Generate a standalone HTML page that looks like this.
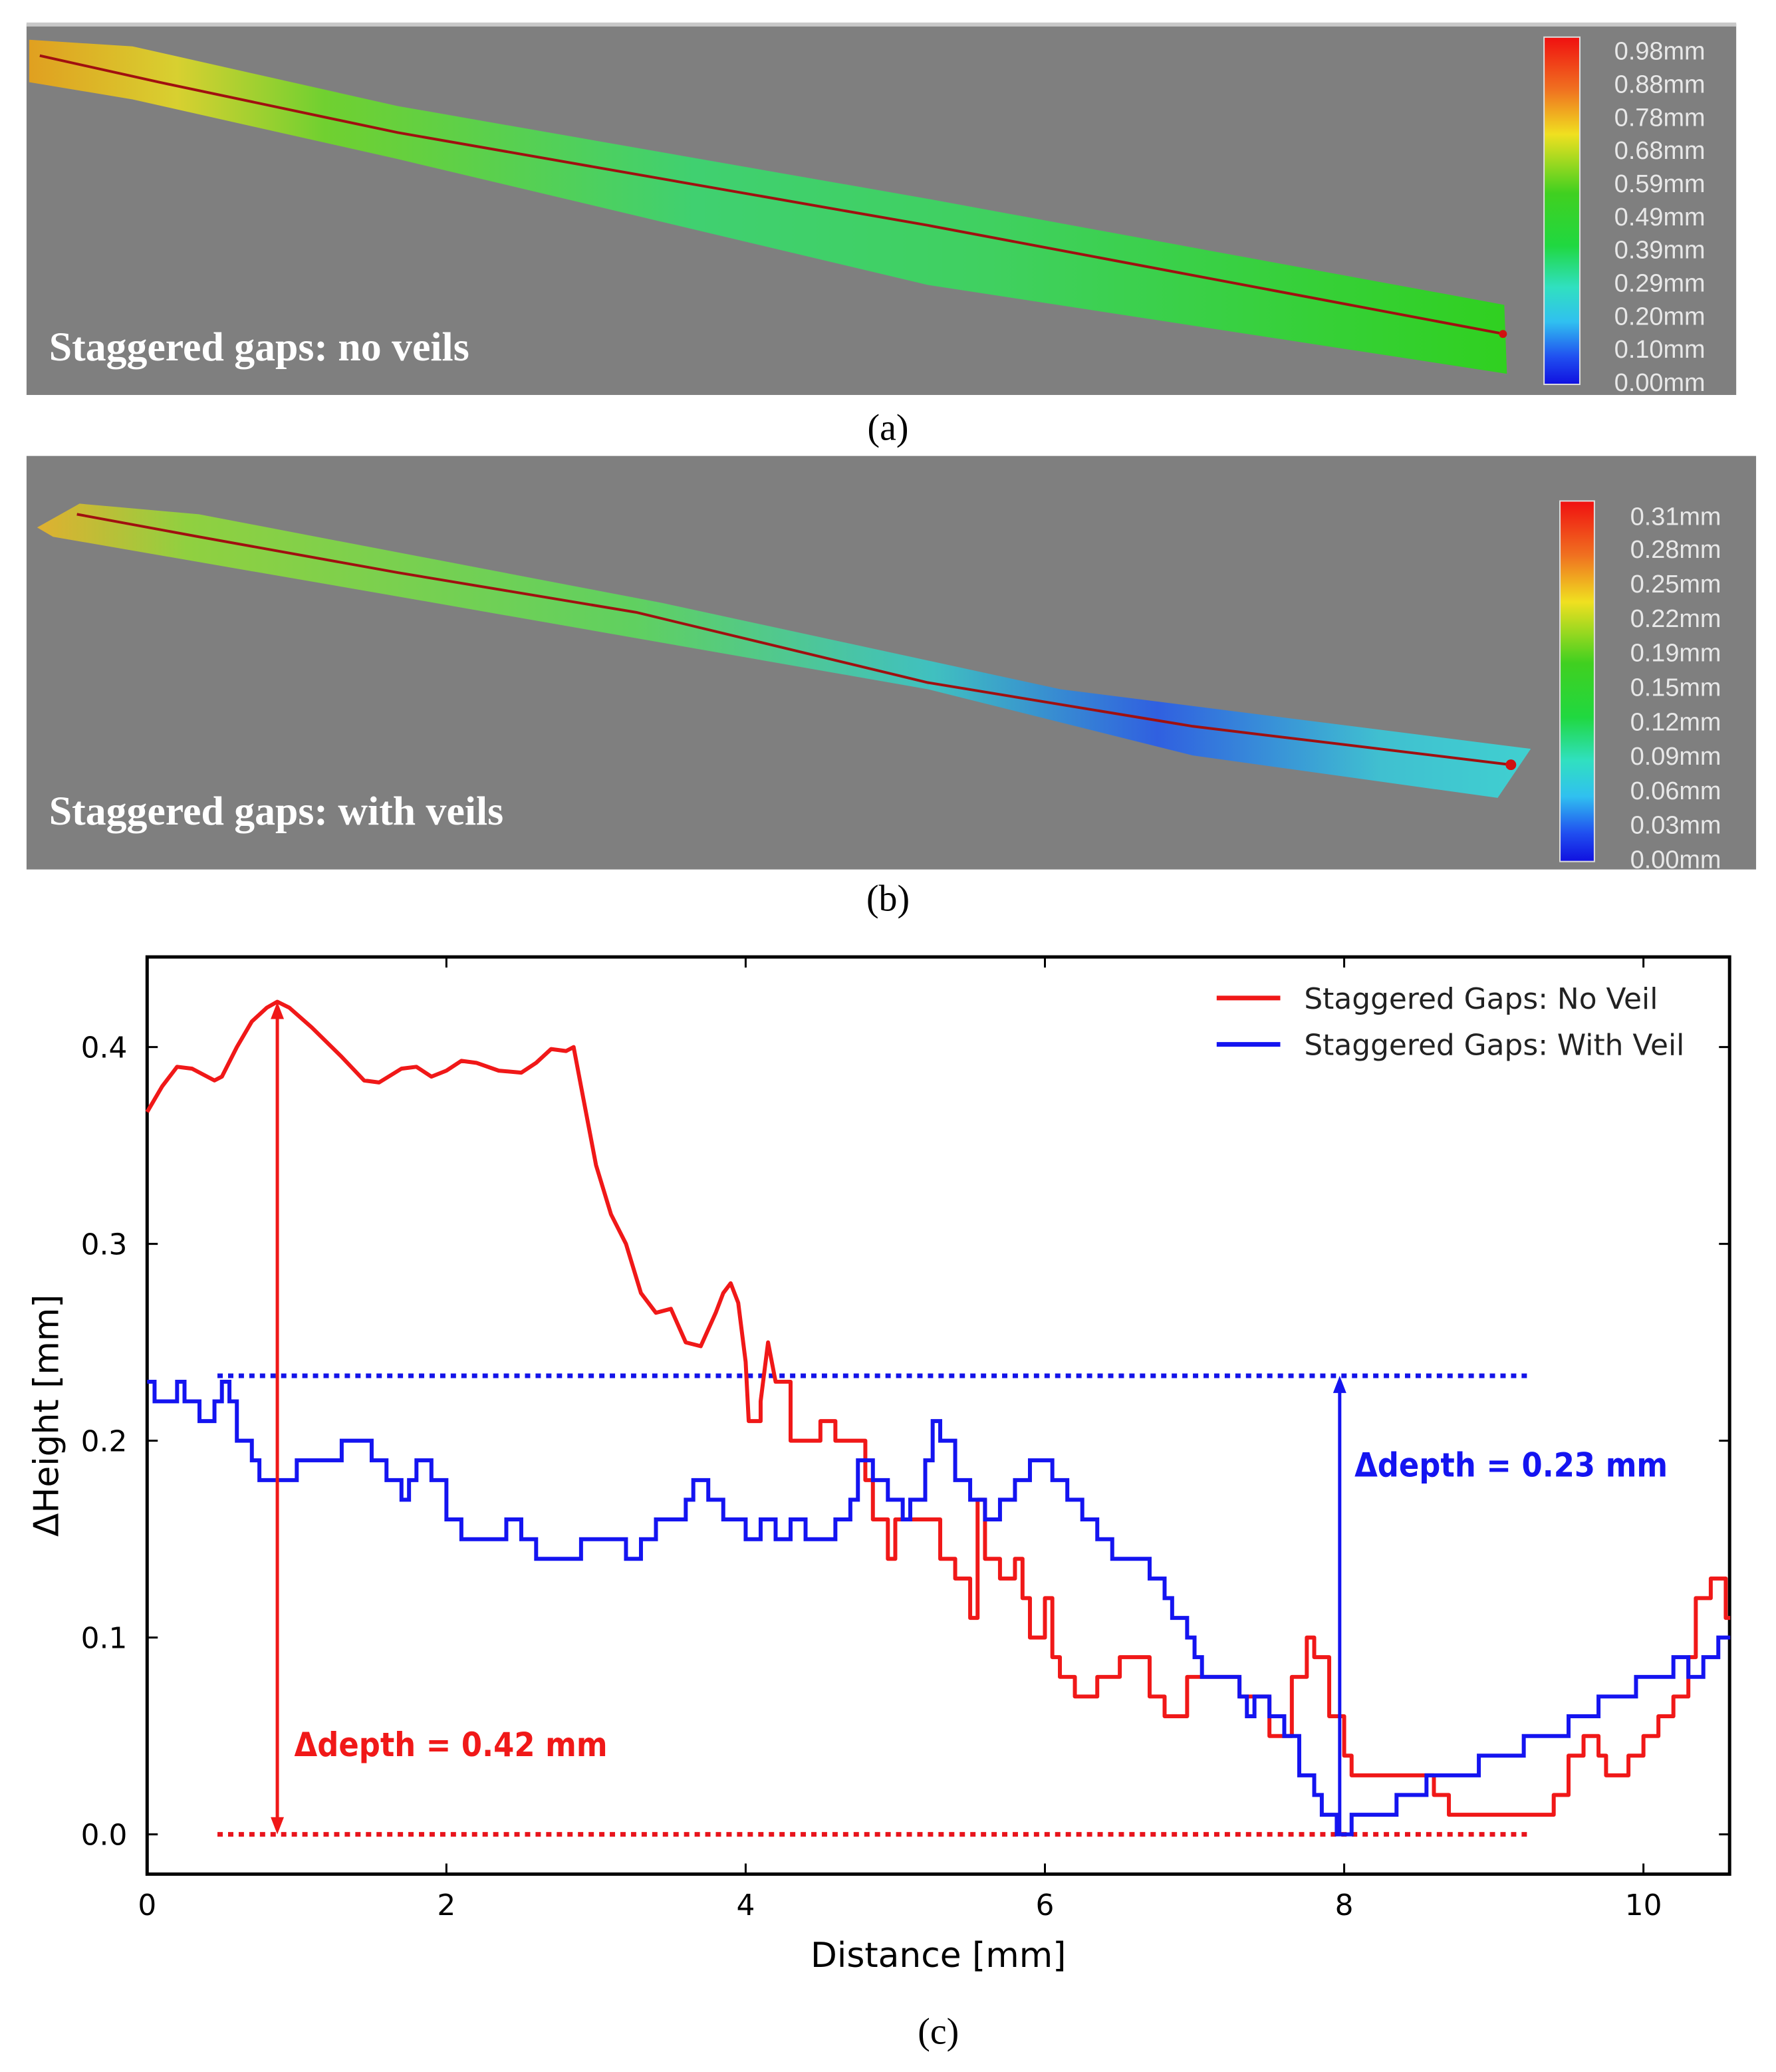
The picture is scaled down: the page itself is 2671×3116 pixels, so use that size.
<!DOCTYPE html>
<html><head><meta charset="utf-8"><style>html,body{margin:0;padding:0;background:#fff}svg{display:block}</style></head>
<body>
<svg id="fig" width="2671" height="3116" viewBox="0 0 1340 1563.3" xmlns="http://www.w3.org/2000/svg" font-family="DejaVu Sans, Liberation Sans, sans-serif">
<defs>
<linearGradient id="cbA" x1="0" y1="0" x2="0" y2="1"><stop offset="0" stop-color="#f01010"/><stop offset="0.15" stop-color="#f07020"/><stop offset="0.28" stop-color="#f0e020"/><stop offset="0.45" stop-color="#40d020"/><stop offset="0.6" stop-color="#20d840"/><stop offset="0.72" stop-color="#30e0c0"/><stop offset="0.82" stop-color="#30c0f0"/><stop offset="0.92" stop-color="#2050f0"/><stop offset="1" stop-color="#1010e0"/></linearGradient>
<linearGradient id="stripA" x1="0" y1="0" x2="1" y2="0"><stop offset="0" stop-color="#e0a020"/><stop offset="0.1" stop-color="#d8d030"/><stop offset="0.2" stop-color="#70d030"/><stop offset="0.45" stop-color="#40d070"/><stop offset="0.65" stop-color="#40d060"/><stop offset="1" stop-color="#30d020"/></linearGradient>
<linearGradient id="stripB" x1="0" y1="0" x2="1" y2="0"><stop offset="0" stop-color="#e0b030"/><stop offset="0.1" stop-color="#90d040"/><stop offset="0.4" stop-color="#60d060"/><stop offset="0.6" stop-color="#40c0c0"/><stop offset="0.75" stop-color="#3060e0"/><stop offset="0.9" stop-color="#40c0d0"/><stop offset="1" stop-color="#40d0d0"/></linearGradient>
</defs>

<g>
<rect x="20" y="18" width="1290" height="280" fill="#7f7f7f"/>
<rect x="20" y="17" width="1290" height="3" fill="#c8c8c8"/>
<polygon points="22,30 100,35 300,80 700,150 1135,230 1137,282 700,215 300,120 100,75 22,62" fill="url(#stripA)"/>
<polyline points="30,42 120,62 300,100 700,170 1135,252" fill="none" stroke="#a01010" stroke-width="2"/>
<circle cx="1134" cy="252" r="3" fill="#d01010"/>
<text x="37" y="272" font-family="Liberation Serif, serif" font-weight="bold" font-size="31" fill="#fff">Staggered gaps: no veils</text>
<rect x="1165" y="28" width="27" height="262" fill="url(#cbA)" stroke="#ddd"/>
<g font-size="19" fill="#e8e8e8" font-family="Liberation Sans, sans-serif">
<text x="1218" y="45">0.98mm</text><text x="1218" y="70">0.88mm</text><text x="1218" y="95">0.78mm</text><text x="1218" y="120">0.68mm</text><text x="1218" y="145">0.59mm</text><text x="1218" y="170">0.49mm</text><text x="1218" y="195">0.39mm</text><text x="1218" y="220">0.29mm</text><text x="1218" y="245">0.20mm</text><text x="1218" y="270">0.10mm</text><text x="1218" y="295">0.00mm</text>
</g>
</g>
<text x="670" y="332" text-anchor="middle" font-family="Liberation Serif, serif" font-size="28">(a)</text>

<g>
<rect x="20" y="344" width="1305" height="312" fill="#7f7f7f"/>
<polygon points="28,398 60,380 150,388 500,455 800,520 1155,565 1130,602 900,570 700,520 300,450 40,405" fill="url(#stripB)"/>
<polyline points="58,388 150,405 300,432 480,462 700,515 900,548 1140,577" fill="none" stroke="#a01010" stroke-width="2"/>
<circle cx="1140" cy="577" r="4" fill="#d01010"/>
<text x="37" y="622" font-family="Liberation Serif, serif" font-weight="bold" font-size="31" fill="#fff">Staggered gaps: with veils</text>
<rect x="1177" y="378" width="26" height="272" fill="url(#cbA)" stroke="#ddd"/>
<g font-size="19" fill="#e8e8e8" font-family="Liberation Sans, sans-serif">
<text x="1230" y="396">0.31mm</text><text x="1230" y="421">0.28mm</text><text x="1230" y="447">0.25mm</text><text x="1230" y="473">0.22mm</text><text x="1230" y="499">0.19mm</text><text x="1230" y="525">0.15mm</text><text x="1230" y="551">0.12mm</text><text x="1230" y="577">0.09mm</text><text x="1230" y="603">0.06mm</text><text x="1230" y="629">0.03mm</text><text x="1230" y="655">0.00mm</text>
</g>
</g>
<text x="670" y="687" text-anchor="middle" font-family="Liberation Serif, serif" font-size="28">(b)</text>

<g id="chart"></g>
<text x="708" y="1542" text-anchor="middle" font-family="Liberation Serif, serif" font-size="28">(c)</text>
</svg>
<script>
const xTicks = [0, 2, 4, 6, 8, 10];
const yTicks = [0.0, 0.1, 0.2, 0.3, 0.4];
const yTickLabels = ["0.0", "0.1", "0.2", "0.3", "0.4"];
const redX = [0,0.1,0.2,0.3,0.45,0.5,0.6,0.7,0.8,0.87,0.95,1.1,1.3,1.45,1.55,1.7,1.8,1.9,2.0,2.1,2.2,2.35,2.5,2.6,2.7,2.8,2.85,2.9,3.0,3.1,3.2,3.3,3.4,3.5,3.6,3.7,3.8,3.85,3.9,3.95,4.0,4.02,4.02,4.1,4.1,4.15,4.2,4.2,4.3,4.3,4.5,4.5,4.6,4.6,4.8,4.8,4.85,4.85,4.95,4.95,5.0,5.0,5.3,5.3,5.4,5.4,5.5,5.5,5.55,5.55,5.6,5.6,5.7,5.7,5.8,5.8,5.85,5.85,5.9,5.9,6.0,6.0,6.05,6.05,6.1,6.1,6.2,6.2,6.35,6.35,6.5,6.5,6.7,6.7,6.8,6.8,6.95,6.95,7.3,7.3,7.5,7.5,7.65,7.65,7.75,7.75,7.8,7.8,7.9,7.9,8.0,8.0,8.05,8.05,8.5,8.5,8.6,8.6,8.7,8.7,9.3,9.3,9.4,9.4,9.5,9.5,9.6,9.6,9.7,9.7,9.75,9.75,9.9,9.9,10.0,10.0,10.1,10.1,10.2,10.2,10.3,10.3,10.35,10.35,10.45,10.45,10.55,10.55,10.58];
const redY = [0.367,0.38,0.39,0.389,0.383,0.385,0.4,0.413,0.42,0.423,0.42,0.41,0.395,0.383,0.382,0.389,0.39,0.385,0.388,0.393,0.392,0.388,0.387,0.392,0.399,0.398,0.4,0.38,0.34,0.315,0.3,0.275,0.265,0.267,0.25,0.248,0.265,0.275,0.28,0.27,0.24,0.21,0.21,0.21,0.22,0.25,0.23,0.23,0.23,0.2,0.2,0.21,0.21,0.2,0.2,0.18,0.18,0.16,0.16,0.14,0.14,0.16,0.16,0.14,0.14,0.13,0.13,0.11,0.11,0.17,0.17,0.14,0.14,0.13,0.13,0.14,0.14,0.12,0.12,0.1,0.1,0.12,0.12,0.09,0.09,0.08,0.08,0.07,0.07,0.08,0.08,0.09,0.09,0.07,0.07,0.06,0.06,0.08,0.08,0.07,0.07,0.05,0.05,0.08,0.08,0.1,0.1,0.09,0.09,0.06,0.06,0.04,0.04,0.03,0.03,0.03,0.03,0.02,0.02,0.01,0.01,0.01,0.01,0.02,0.02,0.04,0.04,0.05,0.05,0.04,0.04,0.03,0.03,0.04,0.04,0.05,0.05,0.06,0.06,0.07,0.07,0.09,0.09,0.12,0.12,0.13,0.13,0.11,0.11,0.09];
const blueX = [0,0.05,0.2,0.25,0.35,0.45,0.5,0.55,0.6,0.7,0.75,1.0,1.3,1.5,1.6,1.7,1.75,1.8,1.9,2.0,2.1,2.4,2.5,2.6,2.9,3.2,3.3,3.4,3.6,3.65,3.75,3.85,4.0,4.1,4.2,4.3,4.4,4.6,4.7,4.75,4.85,4.95,5.05,5.1,5.2,5.25,5.3,5.4,5.5,5.6,5.7,5.8,5.9,6.05,6.15,6.25,6.35,6.45,6.7,6.8,6.85,6.95,7.0,7.05,7.3,7.35,7.4,7.5,7.6,7.7,7.8,7.85,7.95,8.05,8.35,8.55,8.9,9.2,9.5,9.7,9.95,10.2,10.3,10.4,10.5,10.58];
const blueY = [0.23,0.22,0.23,0.22,0.21,0.22,0.23,0.22,0.2,0.19,0.18,0.19,0.2,0.19,0.18,0.17,0.18,0.19,0.18,0.16,0.15,0.16,0.15,0.14,0.15,0.14,0.15,0.16,0.17,0.18,0.17,0.16,0.15,0.16,0.15,0.16,0.15,0.16,0.17,0.19,0.18,0.17,0.16,0.17,0.19,0.21,0.2,0.18,0.17,0.16,0.17,0.18,0.19,0.18,0.17,0.16,0.15,0.14,0.13,0.12,0.11,0.1,0.09,0.08,0.07,0.06,0.07,0.06,0.05,0.03,0.02,0.01,0.0,0.01,0.02,0.03,0.04,0.05,0.06,0.07,0.08,0.09,0.08,0.09,0.1,0.1];
const refLevels = [0.0, 0.233];
const refRange = [0.47, 9.23];
const redArrowX = 0.87, redArrowTop = 0.423;
const blueArrowX = 7.97, blueArrowTop = 0.233;

const NS = "http://www.w3.org/2000/svg";
const L = 111, R = 1305, T = 722, B = 1414;
const xScale = v => 111 + v * 112.9;
const yScale = v => 1384 - v * 1485;
const g = document.getElementById('chart');
function mk(tag, attrs, parent) {
  const e = document.createElementNS(NS, tag);
  for (const k in attrs) e.setAttribute(k, attrs[k]);
  (parent || g).appendChild(e);
  return e;
}
const frame = mk('rect', {x: L, y: T, width: R - L, height: B - T, fill: 'none', stroke: '#000', 'stroke-width': 2.5});


xTicks.forEach(v => {
  const x = xScale(v);
  const t1 = mk('line', {x1: x, x2: x, y1: B, y2: B - 8, stroke: '#000', 'stroke-width': 1.5});
  
  
  mk('line', {x1: x, x2: x, y1: T, y2: T + 8, stroke: '#000', 'stroke-width': 1.5});
  const tx = mk('text', {x: x, y: 1445, 'text-anchor': 'middle', 'font-size': 22});
  tx.textContent = v;
  
  
});
yTicks.forEach((v, i) => {
  const y = yScale(v);
  const t1 = mk('line', {x1: L, x2: L + 8, y1: y, y2: y, stroke: '#000', 'stroke-width': 1.5});
  
  
  mk('line', {x1: R, x2: R - 8, y1: y, y2: y, stroke: '#000', 'stroke-width': 1.5});
  const tx = mk('text', {x: 96, y: y + 8, 'text-anchor': 'end', 'font-size': 22});
  tx.textContent = yTickLabels[i];
  
  
});
const xl = mk('text', {x: 708, y: 1484, 'text-anchor': 'middle', 'font-size': 26});
xl.textContent = 'Distance [mm]';


const yl = mk('text', {x: 0, y: 0, 'text-anchor': 'middle', 'font-size': 26, transform: 'translate(44,1068) rotate(-90)'});
yl.textContent = 'ΔHeight [mm]';



['#e8141c', '#1414e8'].forEach((c, i) => {
  const l = mk('line', {x1: xScale(refRange[0]), x2: xScale(refRange[1]), y1: yScale(refLevels[i]), y2: yScale(refLevels[i]), stroke: c, 'stroke-width': 3.5, 'stroke-dasharray': '4 4'});
  
  
});

const rp = redX.map((x, i) => xScale(x).toFixed(1) + ',' + yScale(redY[i]).toFixed(1)).join(' ');
const red = mk('polyline', {points: rp, fill: 'none', stroke: '#f01818', 'stroke-width': 3, 'stroke-linejoin': 'round'});


let bp = [];
blueX.forEach((x, i) => {
  if (i > 0) bp.push(xScale(x).toFixed(1) + ',' + yScale(blueY[i - 1]).toFixed(1));
  bp.push(xScale(x).toFixed(1) + ',' + yScale(blueY[i]).toFixed(1));
});
const blue = mk('polyline', {points: bp.join(' '), fill: 'none', stroke: '#1414f0', 'stroke-width': 3});



function arrowHead(x, y, dir, c) {
  return mk('polygon', {points: `${x},${y} ${x - 5},${y - dir * 13} ${x + 5},${y - dir * 13}`, fill: c});
}
const ra = mk('line', {x1: xScale(redArrowX), x2: xScale(redArrowX), y1: yScale(0) - 10, y2: yScale(redArrowTop) + 10, stroke: '#f01818', 'stroke-width': 2.5});


arrowHead(xScale(redArrowX), yScale(0), 1, '#f01818');
arrowHead(xScale(redArrowX), yScale(redArrowTop), -1, '#f01818');
const ba = mk('line', {x1: xScale(blueArrowX), x2: xScale(blueArrowX), y1: yScale(0), y2: yScale(blueArrowTop) + 10, stroke: '#1414f0', 'stroke-width': 2.5});


arrowHead(xScale(blueArrowX), yScale(blueArrowTop), -1, '#1414f0');

const at1 = mk('text', {x: 222, y: 1325, 'font-size': 25, 'font-weight': 'bold', fill: '#f01818', 'font-family': 'DejaVu Sans Condensed, DejaVu Sans, sans-serif'});
at1.textContent = 'Δdepth = 0.42 mm';


const at2 = mk('text', {x: 1022, y: 1114, 'font-size': 25, 'font-weight': 'bold', fill: '#1414f0', 'font-family': 'DejaVu Sans Condensed, DejaVu Sans, sans-serif'});
at2.textContent = 'Δdepth = 0.23 mm';



[['Staggered Gaps: No Veil', '#f01818', 753], ['Staggered Gaps: With Veil', '#1414f0', 788]].forEach(([t, c, y]) => {
  const ln = mk('line', {x1: 918, x2: 966, y1: y, y2: y, stroke: c, 'stroke-width': 3.5});
  
  
  const tx = mk('text', {x: 984, y: y + 8, 'font-size': 22, fill: '#222'});
  tx.textContent = t;
  
  
});
</script>
</body></html>
